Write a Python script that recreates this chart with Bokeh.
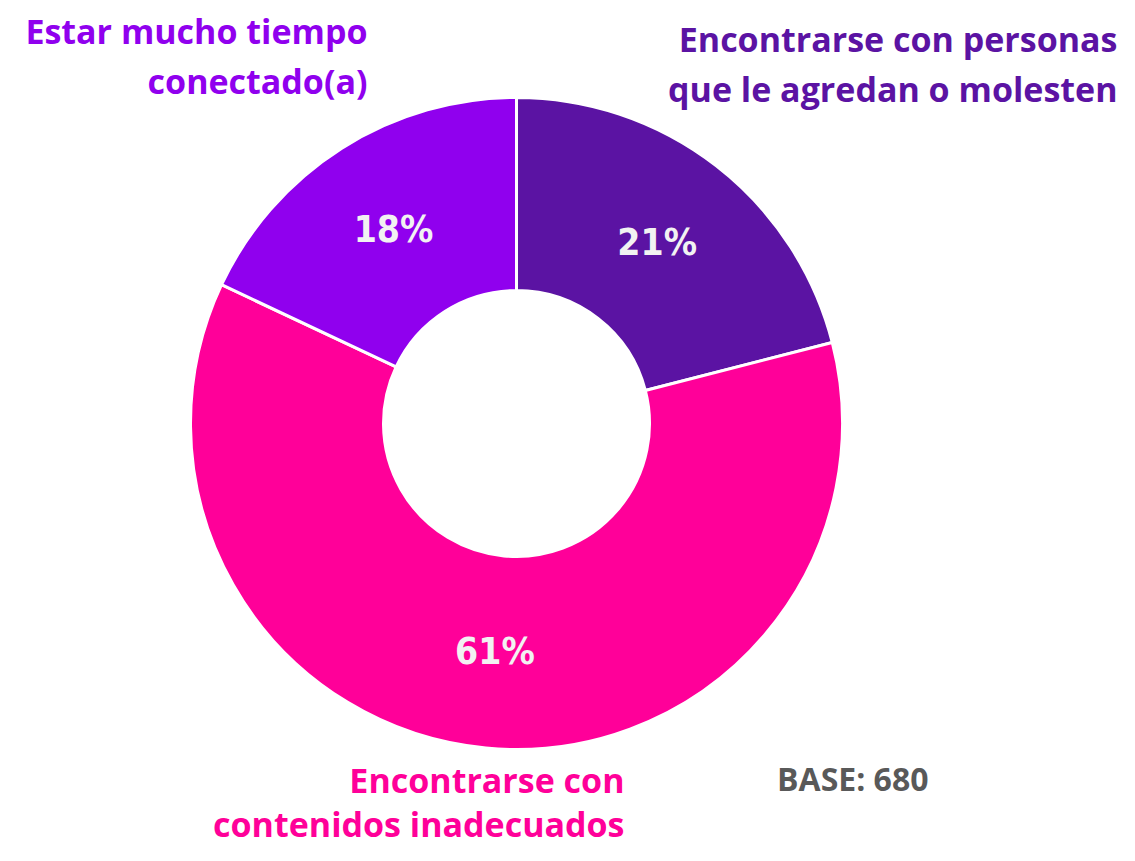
import numpy as np
from bokeh.plotting import figure
from bokeh.models import Range1d, ColumnDataSource
from bokeh.core.properties import value
from bokeh.embed import file_html
from bokeh.resources import INLINE

# ---- data ----
categories = [
    "Encontrarse con personas que le agredan o molesten",
    "Encontrarse con contenidos inadecuados",
    "Estar mucho tiempo conectado(a)",
]
label_lines = [
    ["Encontrarse con personas", "que le agredan o molesten"],
    ["Encontrarse con", "contenidos inadecuados"],
    ["Estar mucho tiempo", "conectado(a)"],
]
values = [21, 61, 18]
colors = ["#5B13A3", "#FF0099", "#9000EE"]
base_text = "BASE: 680"

# ---- layout ----
W, H = 1119, 845
TOP = 861
p = figure(width=W, height=H, x_range=Range1d(0, W), y_range=Range1d(TOP - H, TOP),
           output_backend="svg", toolbar_location=None, min_border=0)
p.axis.visible = False
p.grid.visible = False
p.outline_line_color = None
p.background_fill_color = "white"

cx, cy = 516, TOP - 423
r_out, r_in = 326, 133

vals = np.array(values, dtype=float)
frac = vals / vals.sum()
cum = np.concatenate([[0], np.cumsum(frac)])
start = np.pi / 2 - 2 * np.pi * cum[:-1]
end = np.pi / 2 - 2 * np.pi * cum[1:]
mid = (start + end) / 2

src = ColumnDataSource(dict(start=start, end=end, color=colors,
                            pct=[f"{v:.0f}%" for v in values],
                            lx=cx + (r_out + r_in) / 2 * np.cos(mid),
                            ly=cy + (r_out + r_in) / 2 * np.sin(mid)))

p.annular_wedge(x=cx, y=cy, inner_radius=r_in, outer_radius=r_out,
                start_angle="start", end_angle="end", direction="clock",
                fill_color="color", line_color="white", line_width=3, source=src)

p.text(x="lx", y="ly", text="pct", source=src, text_align="center", text_baseline="middle",
       text_font=value("DejaVu Sans Condensed"), text_font_style="bold",
       text_font_size="37px", text_color="#F2F2F2")

# category labels (right-aligned blocks)
label_anchor = [(1117, [38, 88]), (624, [779, 823]), (367, [30, 80])]
for (ax, ys), lines, col in zip(label_anchor, label_lines, colors):
    p.text(x=[ax] * len(lines), y=[TOP - yy for yy in ys], text=lines,
           text_align="right", text_baseline="middle",
           text_font=value("Open Sans"), text_font_style="bold",
           text_font_size="34px", text_color=col)

p.text(x=[928], y=[TOP - 778], text=[base_text], text_align="right", text_baseline="middle",
       text_font=value("Open Sans"), text_font_style="bold", text_font_size="32px",
       text_color="#595959")

open("out.html", "w").write(file_html(p, INLINE))
